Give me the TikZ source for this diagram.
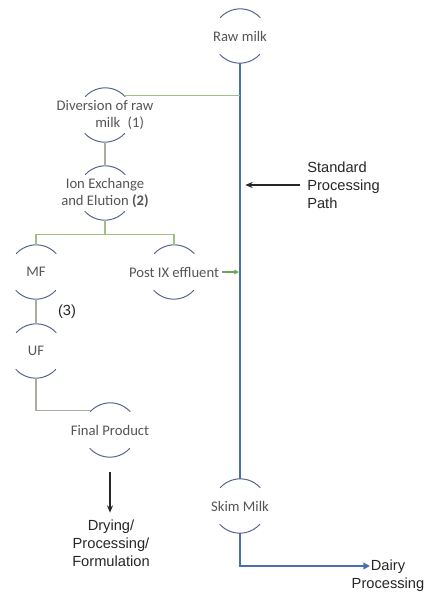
\documentclass[tikz,border=0pt]{standalone}
\usepackage{fontspec}
\setmainfont{Liberation Sans}
\newfontfamily\calib{Carlito}
\usepackage{xcolor}
\definecolor{arcblue}{HTML}{56668A}
\definecolor{mainblue}{HTML}{4A6FAE}
\definecolor{lightgreen}{HTML}{9DC183}
\definecolor{arrowgreen}{HTML}{6AAA4A}
\definecolor{greyline}{HTML}{A9AFA0}
\definecolor{labelgrey}{HTML}{555555}
\usetikzlibrary{arrows.meta}

\begin{document}
\begin{tikzpicture}[
  x=0.75pt, y=-0.75pt,
  stage/.style={circle, minimum size=40.5pt, inner sep=0pt},
  lbl/.style={font=\calib\fontsize{11}{12.5}\selectfont, text=labelgrey,
              align=center, inner sep=0pt},
  txt/.style={font=\fontsize{11}{13.5}\selectfont, text=black!85,
              align=center, inner sep=0pt},
  rim/.style={draw=arcblue, line width=0.75pt},
  mainline/.style={draw=mainblue, line width=1.5pt},
  branch/.style={draw=lightgreen, line width=0.8pt},
  link/.style={draw=greyline, line width=0.8pt},
  arr/.style={-{Stealth[length=5.5pt, width=4.5pt]}, line width=1pt, black!85},
  garr/.style={-{Triangle[length=3.5pt, width=3.5pt]}, line width=0.9pt, arrowgreen},
  barr/.style={-{Triangle[length=5pt, width=5pt]}, line width=1.2pt, mainblue}
]
  \useasboundingbox (0,0) rectangle (429,594);

  \node[stage, label={[lbl]center:Raw milk}] (raw) at (240,36) {};
  \node[stage, label={[lbl]center:Diversion of raw\\\hspace*{2em}milk\enspace(1)}] (div) at (105,115) {};
  \node[stage, label={[lbl]center:Ion Exchange\\and Elution \textbf{(2)}}] (ion) at (105,193) {};
  \node[stage, label={[lbl]center:MF}] (mf) at (36,272) {};
  \node[stage, label={[lbl, name=postlbl]center:Post IX effluent}] (post) at (174,272) {};
  \node[stage, label={[lbl]center:UF}] (uf) at (36,351) {};
  \node[stage, label={[lbl]center:Final Product}] (fin) at (110,430) {};
  \node[stage, label={[lbl]center:Skim Milk}] (skim) at (240,506) {};

  \foreach \n in {raw,div,ion,mf,post,uf,fin,skim} {
    \draw[rim] (\n.42) arc[start angle=42, end angle=138, radius=20.25pt];
    \draw[rim] (\n.222) arc[start angle=222, end angle=318, radius=20.25pt];
  }

  \node[txt] (three) at (67,312) {(3)};
  \node[txt] (dry) at (111,543) {Drying/\\Processing/\\Formulation};
  \node[txt, anchor=west, align=left] (std) at (307,185) {Standard\\Processing\\Path};
  \node[txt] (dairy) at (388,576) {Dairy\\Processing};
  \coordinate (dairyin) at (370,566);

  \draw[mainline] (raw.south) -- (skim.north);
  \draw[branch] (div.45) -- (div.45 -| raw);
  \draw[link] (div.south) -- (ion.north);
  \draw[branch] (ion.south) -- ++(0,14) coordinate (split);
  \draw[branch] (mf.north) |- (split) -| (post.north);
  \draw[garr, shorten <=2pt, shorten >=0.8pt] (postlbl.east) -- (postlbl.east -| raw);
  \draw[link] (mf.south) -- (uf.north);
  \draw[link] (uf.south) |- (fin.135);
  \draw[arr, shorten <=11pt, shorten >=5pt] (fin.south) -- (fin.south |- dry.north);
  \draw[arr, shorten <=5pt, shorten >=4pt] (std.west) -- (std.west -| raw);
  \draw[barr] (skim.south) |- (dairyin);
\end{tikzpicture}
\end{document}
